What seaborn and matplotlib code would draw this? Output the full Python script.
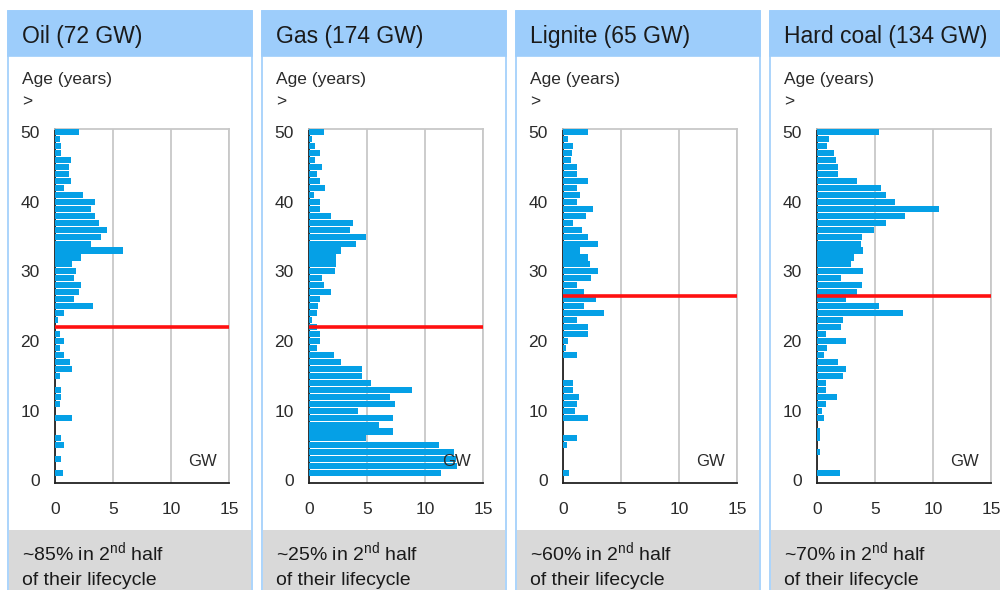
import matplotlib.pyplot as plt
from matplotlib.patches import Rectangle
import pandas as pd
import seaborn as sns

# age of the plants, one bar per year (top = oldest)
ages = list(range(50, -1, -1))

# installed capacity in GW per age (age 50 -> 0)
oil_gw = [2.1, 0.4, 0.5, 0.5, 1.35, 1.2, 1.2, 1.35, 0.8, 2.4,
          3.45, 3.1, 3.45, 3.75, 4.45, 4.0, 3.1, 5.9, 2.25, 1.5,
          1.8, 1.65, 2.25, 2.1, 1.65, 3.3, 0.8, 0.3, 0.0, 0.45,
          0.8, 0.45, 0.8, 1.3, 1.5, 0.4, 0.0, 0.5, 0.55, 0.45,
          0.0, 1.45, 0.0, 0.0, 0.55, 0.8, 0.0, 0.5, 0.0, 0.65, 0.0]
gas_gw = [1.25, 0.3, 0.5, 0.95, 0.5, 1.1, 0.65, 0.95, 1.4, 0.4,
          0.95, 0.95, 1.9, 3.75, 3.5, 4.9, 4.05, 2.75, 2.35, 2.35,
          2.25, 1.1, 1.25, 1.9, 0.95, 0.8, 0.65, 0.3, 0.7, 0.95,
          0.95, 0.65, 2.15, 2.75, 4.6, 4.6, 5.35, 8.85, 7.0, 7.4,
          4.2, 7.25, 6.05, 7.25, 4.95, 11.2, 12.5, 12.7, 12.8, 11.4, 0.0]
lignite_gw = [2.15, 0.45, 0.9, 0.75, 0.65, 1.2, 1.2, 2.15, 1.2, 1.5,
              1.2, 2.55, 2.0, 0.9, 1.6, 2.15, 3.0, 1.5, 2.15, 2.3,
              3.0, 2.45, 1.2, 1.85, 2.85, 1.8, 3.5, 1.2, 2.15, 2.15,
              0.4, 0.3, 1.2, 0.0, 0.0, 0.0, 0.85, 0.85, 1.4, 1.2,
              1.05, 2.15, 0.0, 0.0, 1.2, 0.35, 0.0, 0.0, 0.0, 0.55, 0.0]
hard_coal_gw = [5.35, 1.0, 0.85, 1.5, 1.65, 1.8, 1.8, 3.45, 5.5, 5.95,
                6.75, 10.5, 7.6, 5.95, 4.9, 3.85, 3.75, 4.0, 3.15, 2.95,
                4.0, 2.1, 3.9, 3.45, 2.5, 5.35, 7.4, 2.25, 2.1, 0.8,
                2.5, 0.9, 0.6, 1.8, 2.5, 2.25, 0.8, 0.8, 1.7, 0.8,
                0.45, 0.6, 0.0, 0.3, 0.3, 0.0, 0.3, 0.0, 0.0, 2.0, 0.0]

titles = ["Oil (72 GW)", "Gas (174 GW)", "Lignite (65 GW)", "Hard coal (134 GW)"]
half_life = [22, 22, 26.5, 26.5]
share_2nd_half = ["~85%", "~25%", "~60%", "~70%"]
x_ticks = [0, 5, 10, 15]
y_ticks = [0, 10, 20, 30, 40, 50]

sns.set_style("white")
plt.rcParams["font.family"] = ["Liberation Sans", "DejaVu Sans"]
plt.rcParams["mathtext.fontset"] = "custom"
plt.rcParams["mathtext.rm"] = "Liberation Sans"

W, H = 1000, 590
BAR = "#05A0E6"
HEADER = "#9DCDFB"
FOOTER = "#D9D9D9"
TXT = "#2B2B2B"

fig = plt.figure(figsize=(W / 100, H / 100), dpi=100)


def fx(px):
    return px / W


def fy(py):
    return 1 - py / H


def box(x0, y0, x1, y1, **kw):
    fig.add_artist(Rectangle((fx(x0), fy(y1)), fx(x1 - x0), (y1 - y0) / H,
                             transform=fig.transFigure, **kw))


series = [oil_gw, gas_gw, lignite_gw, hard_coal_gw]
for i, values in enumerate(series):
    ox = 254 * i
    # panel frame, header and footer
    box(8 + ox, 11, 252 + ox, 592, facecolor="white", edgecolor=HEADER, lw=1.2, zorder=0)
    box(8 + ox, 11, 252 + ox, 56, facecolor=HEADER, edgecolor=HEADER, lw=1.2, zorder=0)
    box(8.6 + ox, 530, 251.4 + ox, 592, facecolor=FOOTER, edgecolor="none", zorder=0)

    fig.text(fx(22 + ox), fy(43.3), titles[i], fontsize=16.5, color="#1A1A1A", va="baseline")
    fig.text(fx(22 + ox), fy(84), "Age (years)", fontsize=12.5, color=TXT, va="baseline")
    fig.text(fx(22 + ox), fy(101.5), ">", fontsize=12.5, color=TXT, va="center")
    fig.text(fx(22 + ox), fy(561), share_2nd_half[i] + r" in 2$^{\mathrm{nd}}$ half",
             fontsize=14, color="#1A1A1A", va="baseline")
    fig.text(fx(22 + ox), fy(585), "of their lifecycle", fontsize=14, color="#1A1A1A", va="baseline")

    ax = fig.add_axes([fx(55 + ox), fy(483), fx(174), 353.6 / H])
    ax.set_facecolor("none")
    df = pd.DataFrame({"age": ages, "gw": values})
    sns.barplot(data=df, x="gw", y="age", orient="y", native_scale=True,
                color=BAR, saturation=1, width=0.87, linewidth=0,
                errorbar=None, ax=ax, zorder=3)
    ax.axhline(half_life[i], color="#FF1010", lw=2.6, zorder=4)
    ax.text(12.75, 2.7, "GW", ha="center", va="center", fontsize=12, color=TXT, zorder=5)

    ax.set_xlim(0, 15)
    ax.set_ylim(-0.4, 50.4)
    ax.set_xticks(x_ticks)
    ax.set_yticks(y_ticks)
    ax.set_xlabel("")
    ax.set_ylabel("")
    ax.tick_params(axis="both", length=0, labelsize=12.5, labelcolor=TXT)
    ax.tick_params(axis="y", pad=11)
    ax.tick_params(axis="x", pad=14)
    ax.grid(axis="x", color="#C8C8C8", lw=1.3, zorder=0)
    ax.set_axisbelow(True)
    for side in ["top", "right"]:
        ax.spines[side].set_color("#C8C8C8")
        ax.spines[side].set_linewidth(1.3)
    for side in ["left", "bottom"]:
        ax.spines[side].set_color("#222222")
        ax.spines[side].set_linewidth(1.3)

fig.savefig("out.png", dpi=100)
